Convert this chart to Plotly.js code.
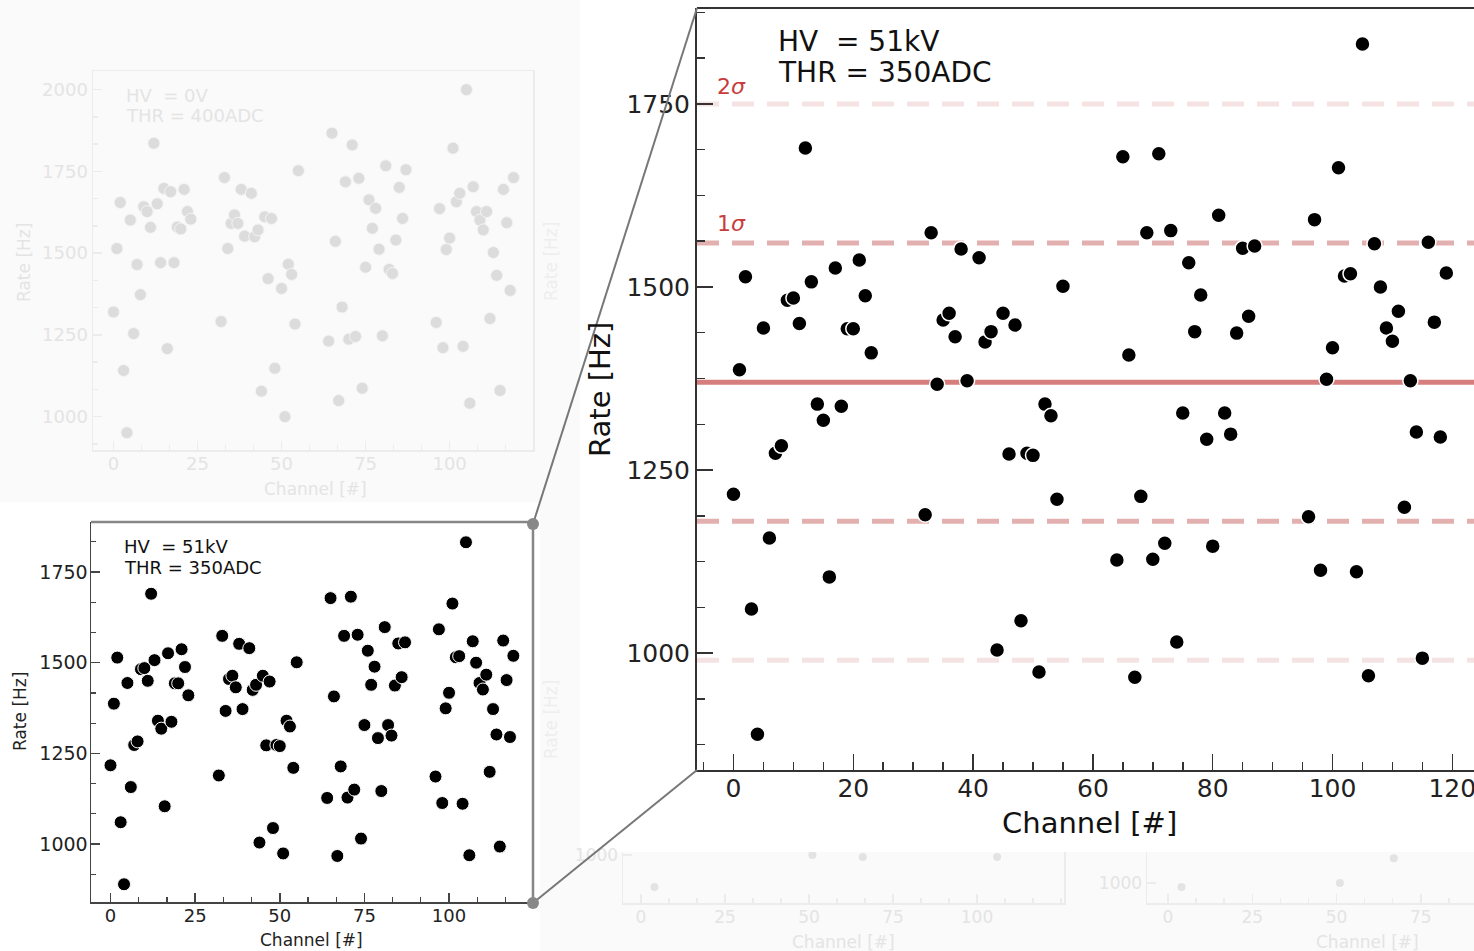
<!DOCTYPE html>
<html>
<head>
<meta charset="utf-8">
<script src="https://cdn.plot.ly/plotly-3.0.1.min.js"></script>
<style>
html,body{margin:0;padding:0;background:#fafafa;}
#chart{width:1474px;height:951px;}
</style>
</head>
<body>
<div id="chart"></div>
<script>
// ---- Data: HV = 51kV, THR = 350ADC ----
const channels51 = [0,1,2,3,4,5,6,7,8,9,10,11,12,13,14,15,16,17,18,19,20,21,22,23,
  32,33,34,35,36,37,38,39,41,42,43,44,45,46,47,48,49,50,51,52,53,54,55,
  64,65,66,67,68,69,70,71,72,73,74,75,76,77,78,79,80,81,82,83,84,85,86,87,
  96,97,98,99,100,101,102,103,104,105,106,107,108,109,110,111,112,113,114,115,116,117,118,119];
const rate51 = [1217,1387,1514,1060,889,1444,1157,1273,1283,1482,1485,1450,1690,1507,1340,1318,1104,1526,1337,1443,1443,1537,1488,1410,
  1189,1574,1367,1455,1464,1432,1552,1372,1540,1425,1439,1004,1464,1272,1448,1044,1273,1270,974,1340,1324,1210,1501,
  1127,1678,1407,967,1214,1574,1128,1682,1150,1577,1015,1328,1533,1439,1489,1292,1146,1598,1328,1299,1437,1553,1460,1556,
  1186,1592,1113,1374,1417,1663,1515,1518,1111,1832,969,1559,1500,1444,1426,1467,1199,1372,1302,993,1561,1452,1295,1519];
const meanRate = 1370;
const sigmaRate = 190;

// ---- Faded background data: HV = 0V, THR = 400ADC ----
const channels0 = [0,1,2,3,4,5,6,7,8,9,10,11,12,13,14,15,16,17,18,19,20,21,22,23,
  32,33,34,35,36,37,38,39,41,42,43,44,45,46,47,48,50,51,52,53,54,55,
  64,65,66,67,68,69,70,71,72,73,74,75,76,77,78,79,80,81,82,83,84,85,86,87,
  96,97,98,99,100,101,102,103,104,105,106,107,108,109,110,111,112,113,114,115,116,117,118,119];
const rate0 = [1320,1514,1655,1141,951,1601,1254,1465,1373,1642,1627,1579,1836,1651,1471,1698,1208,1688,1471,1580,1574,1695,1627,1604,
  1291,1731,1514,1591,1617,1591,1695,1552,1683,1550,1571,1078,1611,1422,1606,1148,1392,1000,1466,1435,1283,1752,
  1231,1867,1536,1049,1335,1718,1237,1831,1245,1729,1087,1457,1663,1576,1637,1512,1247,1767,1450,1438,1540,1701,1606,1755,
  1288,1636,1211,1511,1546,1821,1657,1683,1215,2000,1041,1703,1627,1601,1571,1627,1300,1502,1432,1080,1695,1593,1386,1731];

// ---- Faint partial charts along the bottom edge ----
const faintAChannels = [4,51,66,106];
const faintARates = [902,1000,994,994];
const faintBChannels = [4,51,67];
const faintBRates = [988,1000,1076];
const channelTicks = [0,25,50,75,100];

// ---- helpers (pixel -> paper) ----
const W = 1474, H = 951;
const fx = p => p / W;
const fy = p => 1 - p / H;
const FONT = 'DejaVu Sans, Verdana, sans-serif';
const DARK = '#333333';
const FADE_TXT = '#e4e4e4';
const FADE_LINE = '#ececec';

const traces = [
  {x: channels0, y: rate0, xaxis: 'x3', yaxis: 'y3', type: 'scatter', mode: 'markers',
   marker: {size: 12, color: '#dcdcdc', line: {color: '#f4f4f4', width: 1}}, hoverinfo: 'skip'},
  {x: faintAChannels, y: faintARates, xaxis: 'x4', yaxis: 'y4', type: 'scatter', mode: 'markers',
   marker: {size: 8, color: '#e3e3e3'}, hoverinfo: 'skip'},
  {x: faintBChannels, y: faintBRates, xaxis: 'x5', yaxis: 'y5', type: 'scatter', mode: 'markers',
   marker: {size: 8, color: '#e3e3e3'}, hoverinfo: 'skip'},
  {x: channels51, y: rate51, xaxis: 'x2', yaxis: 'y2', type: 'scatter', mode: 'markers',
   marker: {size: 13, color: '#000000', line: {color: '#ffffff', width: 1}}},
  {x: channels51, y: rate51, xaxis: 'x', yaxis: 'y', type: 'scatter', mode: 'markers',
   marker: {size: 15, color: '#000000', line: {color: '#ffffff', width: 1.5}}}
];

function axisBase(opts) {
  return Object.assign({
    showgrid: false, zeroline: false, showline: true, linecolor: DARK, linewidth: 2,
    ticks: 'inside', tickcolor: DARK, tickwidth: 1.5, fixedrange: true, ticklabeloverflow: 'allow'
  }, opts);
}

const layout = {
  width: W, height: H, autosize: false,
  margin: {l: 0, r: 0, t: 0, b: 0, pad: 0},
  paper_bgcolor: '#fafafa', plot_bgcolor: 'rgba(0,0,0,0)',
  showlegend: false,
  font: {family: FONT, color: '#222'},
  // large zoomed chart
  xaxis: axisBase({domain: [fx(697), 1], range: [-6.09, 123.62], anchor: 'y',
    tick0: 0, dtick: 20, ticklen: 16, tickfont: {size: 25, family: FONT, color: '#222'},
    ticklabelstandoff: -5,
    minor: {ticks: 'inside', dtick: 5, tick0: 0, ticklen: 8, tickcolor: DARK, tickwidth: 1.5, showgrid: false}}),
  yaxis: axisBase({domain: [fy(770), fy(8)], range: [840.2, 1881.1], anchor: 'x',
    tick0: 1000, dtick: 250, ticklen: 16, tickfont: {size: 25, family: FONT, color: '#222'},
    ticklabelstandoff: 0,
    minor: {ticks: 'inside', dtick: 62.5, tick0: 1000, ticklen: 8, tickcolor: DARK, tickwidth: 1.5, showgrid: false}}),
  // small inset chart
  xaxis2: axisBase({domain: [fx(91), fx(533)], range: [-5.76, 124.8], anchor: 'y2',
    linecolor: '#444', linewidth: 1.5, tickcolor: '#444',
    tick0: 0, dtick: 25, ticklen: 9, tickfont: {size: 18, family: FONT, color: '#222'},
    ticklabelstandoff: -3,
    minor: {ticks: 'inside', dtick: 25/3, tick0: 0, ticklen: 5, tickcolor: '#444', tickwidth: 1.2, showgrid: false}}),
  yaxis2: axisBase({domain: [fy(902), fy(522)], range: [840.1, 1887.9], anchor: 'x2',
    linecolor: '#444', linewidth: 1.5, tickcolor: '#444',
    tick0: 1000, dtick: 250, ticklen: 9, tickfont: {size: 19, family: FONT, color: '#222'},
    ticklabelstandoff: -2,
    minor: {ticks: 'inside', dtick: 250/3, tick0: 1000, ticklen: 5, tickcolor: '#444', tickwidth: 1.2, showgrid: false}}),
  // faded background chart
  xaxis3: axisBase({domain: [fx(93), fx(533)], range: [-6.1, 124.8], anchor: 'y3',
    linecolor: FADE_LINE, linewidth: 1.5, tickcolor: FADE_LINE, mirror: true,
    tick0: 0, dtick: 25, ticklen: 9, tickfont: {size: 18, family: FONT, color: FADE_TXT},
    ticklabelstandoff: -3,
    minor: {ticks: 'inside', dtick: 25/3, tick0: 0, ticklen: 5, tickcolor: FADE_LINE, showgrid: false}}),
  yaxis3: axisBase({domain: [fy(450), fy(71)], range: [898, 2057], anchor: 'x3',
    linecolor: FADE_LINE, linewidth: 1.5, tickcolor: FADE_LINE, mirror: true,
    tick0: 1000, dtick: 250, ticklen: 9, tickfont: {size: 18, family: FONT, color: FADE_TXT},
    ticklabelstandoff: 0,
    minor: {ticks: 'inside', dtick: 250/3, tick0: 1000, ticklen: 5, tickcolor: FADE_LINE, showgrid: false}}),
  // faint bottom partial charts
  xaxis4: axisBase({domain: [fx(623), fx(1064)], range: [-5.36, 125.9], anchor: 'y4',
    linecolor: FADE_LINE, linewidth: 1.5, tickcolor: FADE_LINE,
    tickvals: channelTicks, ticklen: 9, tickfont: {size: 17, family: FONT, color: FADE_TXT},
    ticklabelstandoff: -2,
    minor: {ticks: 'inside', dtick: 25/3, tick0: 0, ticklen: 5, tickcolor: FADE_LINE, showgrid: false}}),
  yaxis4: axisBase({domain: [fy(903), fy(852)], range: [853, 1009], anchor: 'x4',
    linecolor: FADE_LINE, linewidth: 1.5, tickcolor: FADE_LINE, mirror: true,
    tickvals: [1000], ticklen: 9, tickfont: {size: 17, family: FONT, color: FADE_TXT}}),
  xaxis5: axisBase({domain: [fx(1147), 1], range: [-6.23, 90.8], anchor: 'y5',
    linecolor: FADE_LINE, linewidth: 1.5, tickcolor: FADE_LINE,
    tickvals: channelTicks, ticklen: 9, tickfont: {size: 17, family: FONT, color: FADE_TXT},
    ticklabelstandoff: -2,
    minor: {ticks: 'inside', dtick: 25/3, tick0: 0, ticklen: 5, tickcolor: FADE_LINE, showgrid: false}}),
  yaxis5: axisBase({domain: [fy(903), fy(852)], range: [939, 1095], anchor: 'x5',
    linecolor: FADE_LINE, linewidth: 1.5, tickcolor: FADE_LINE,
    tickvals: [1000], ticklen: 9, tickfont: {size: 17, family: FONT, color: FADE_TXT}}),
  shapes: [
    // white panels over the light-grey page
    {type: 'rect', xref: 'paper', yref: 'paper', x0: fx(0), x1: fx(540), y0: fy(951), y1: fy(502),
     fillcolor: '#ffffff', line: {width: 0}, layer: 'below'},
    {type: 'rect', xref: 'paper', yref: 'paper', x0: fx(580), x1: 1, y0: fy(852), y1: 1,
     fillcolor: '#ffffff', line: {width: 0}, layer: 'below'},
    // mean and sigma bands on the large chart
    {type: 'line', xref: 'x domain', yref: 'y', x0: 0, x1: 1, y0: meanRate + 2*sigmaRate, y1: meanRate + 2*sigmaRate,
     line: {color: '#f5e3e3', width: 5, dash: '22px,13px'}, layer: 'below'},
    {type: 'line', xref: 'x domain', yref: 'y', x0: 0, x1: 1, y0: meanRate - 2*sigmaRate, y1: meanRate - 2*sigmaRate,
     line: {color: '#f5e3e3', width: 5, dash: '22px,13px'}, layer: 'below'},
    {type: 'line', xref: 'x domain', yref: 'y', x0: 0, x1: 1, y0: meanRate + sigmaRate, y1: meanRate + sigmaRate,
     line: {color: '#e3b0b0', width: 5, dash: '22px,13px'}, layer: 'below'},
    {type: 'line', xref: 'x domain', yref: 'y', x0: 0, x1: 1, y0: meanRate - sigmaRate, y1: meanRate - sigmaRate,
     line: {color: '#e3b0b0', width: 5, dash: '22px,13px'}, layer: 'below'},
    {type: 'line', xref: 'x domain', yref: 'y', x0: 0, x1: 1, y0: meanRate, y1: meanRate,
     line: {color: '#d67e7e', width: 5}, layer: 'below'},
    // top spine of the large chart
    {type: 'line', xref: 'paper', yref: 'paper', x0: fx(697), x1: 1, y0: fy(8), y1: fy(8),
     line: {color: DARK, width: 2}},
    // zoom box on the small chart (top and right edges)
    {type: 'line', xref: 'paper', yref: 'paper', x0: fx(91), x1: fx(533), y0: fy(522), y1: fy(522),
     line: {color: '#878787', width: 2.5}},
    {type: 'line', xref: 'paper', yref: 'paper', x0: fx(533), x1: fx(533), y0: fy(522), y1: fy(903),
     line: {color: '#878787', width: 2.5}},
    // connector lines
    {type: 'line', xref: 'paper', yref: 'paper', x0: fx(533), x1: fx(697), y0: fy(524), y1: fy(8),
     line: {color: '#777777', width: 2}},
    {type: 'line', xref: 'paper', yref: 'paper', x0: fx(533), x1: fx(697), y0: fy(903), y1: fy(770),
     line: {color: '#777777', width: 2}},
    // corner dots
    {type: 'circle', xref: 'paper', yref: 'paper', x0: fx(527), x1: fx(539), y0: fy(530), y1: fy(518),
     fillcolor: '#888888', line: {width: 0}},
    {type: 'circle', xref: 'paper', yref: 'paper', x0: fx(527), x1: fx(539), y0: fy(909), y1: fy(897),
     fillcolor: '#888888', line: {width: 0}}
  ],
  annotations: [
    // large chart
    {text: 'HV\u00a0\u00a0= 51kV', xref: 'paper', yref: 'paper', x: fx(776), y: fy(42), xanchor: 'left', yanchor: 'middle',
     showarrow: false, font: {size: 28, family: FONT, color: '#111'}},
    {text: 'THR = 350ADC', xref: 'paper', yref: 'paper', x: fx(776), y: fy(73), xanchor: 'left', yanchor: 'middle',
     showarrow: false, font: {size: 28, family: FONT, color: '#111'}},
    {text: '2<i>σ</i>', xref: 'paper', yref: 'paper', x: fx(731), y: fy(86), xanchor: 'center', yanchor: 'middle',
     showarrow: false, font: {size: 22, family: FONT, color: '#c83c3c'}},
    {text: '1<i>σ</i>', xref: 'paper', yref: 'paper', x: fx(731), y: fy(224), xanchor: 'center', yanchor: 'middle',
     showarrow: false, font: {size: 22, family: FONT, color: '#c83c3c'}},
    {text: 'Rate [Hz]', xref: 'paper', yref: 'paper', x: fx(600), y: fy(390), textangle: -90, xanchor: 'center', yanchor: 'middle',
     showarrow: false, font: {size: 29, family: FONT, color: '#111'}},
    {text: 'Channel [#]', xref: 'paper', yref: 'paper', x: fx(1089), y: fy(823), xanchor: 'center', yanchor: 'middle',
     showarrow: false, font: {size: 29, family: FONT, color: '#111'}},
    // small chart
    {text: 'HV\u00a0\u00a0= 51kV', xref: 'paper', yref: 'paper', x: fx(122), y: fy(546), xanchor: 'left', yanchor: 'middle',
     showarrow: false, font: {size: 18, family: FONT, color: '#111'}},
    {text: 'THR = 350ADC', xref: 'paper', yref: 'paper', x: fx(122), y: fy(567), xanchor: 'left', yanchor: 'middle',
     showarrow: false, font: {size: 18, family: FONT, color: '#111'}},
    {text: 'Rate [Hz]', xref: 'paper', yref: 'paper', x: fx(20), y: fy(712), textangle: -90, xanchor: 'center', yanchor: 'middle',
     showarrow: false, font: {size: 17, family: FONT, color: '#222'}},
    {text: 'Channel [#]', xref: 'paper', yref: 'paper', x: fx(311), y: fy(940), xanchor: 'center', yanchor: 'middle',
     showarrow: false, font: {size: 17, family: FONT, color: '#222'}},
    // faded chart
    {text: 'HV\u00a0\u00a0= 0V', xref: 'paper', yref: 'paper', x: fx(124), y: fy(95), xanchor: 'left', yanchor: 'middle',
     showarrow: false, font: {size: 18, family: FONT, color: FADE_TXT}},
    {text: 'THR = 400ADC', xref: 'paper', yref: 'paper', x: fx(124), y: fy(115), xanchor: 'left', yanchor: 'middle',
     showarrow: false, font: {size: 18, family: FONT, color: FADE_TXT}},
    {text: 'Rate [Hz]', xref: 'paper', yref: 'paper', x: fx(24), y: fy(262), textangle: -90, xanchor: 'center', yanchor: 'middle',
     showarrow: false, font: {size: 17, family: FONT, color: FADE_TXT}},
    {text: 'Channel [#]', xref: 'paper', yref: 'paper', x: fx(315), y: fy(489), xanchor: 'center', yanchor: 'middle',
     showarrow: false, font: {size: 17, family: FONT, color: FADE_TXT}},
    // faint fragments of other charts
    {text: 'Rate [Hz]', xref: 'paper', yref: 'paper', x: fx(551), y: fy(262), textangle: -90, xanchor: 'center', yanchor: 'middle',
     showarrow: false, font: {size: 17, family: FONT, color: '#eeeeee'}},
    {text: 'Rate [Hz]', xref: 'paper', yref: 'paper', x: fx(551), y: fy(720), textangle: -90, xanchor: 'center', yanchor: 'middle',
     showarrow: false, font: {size: 17, family: FONT, color: '#eeeeee'}},
    {text: 'Channel [#]', xref: 'paper', yref: 'paper', x: fx(844), y: fy(942), xanchor: 'center', yanchor: 'middle',
     showarrow: false, font: {size: 17, family: FONT, color: FADE_TXT}},
    {text: 'Channel [#]', xref: 'paper', yref: 'paper', x: fx(1367), y: fy(942), xanchor: 'center', yanchor: 'middle',
     showarrow: false, font: {size: 17, family: FONT, color: FADE_TXT}}
  ]
};

Plotly.newPlot('chart', traces, layout, {staticPlot: true, displayModeBar: false});
</script>
</body>
</html>
